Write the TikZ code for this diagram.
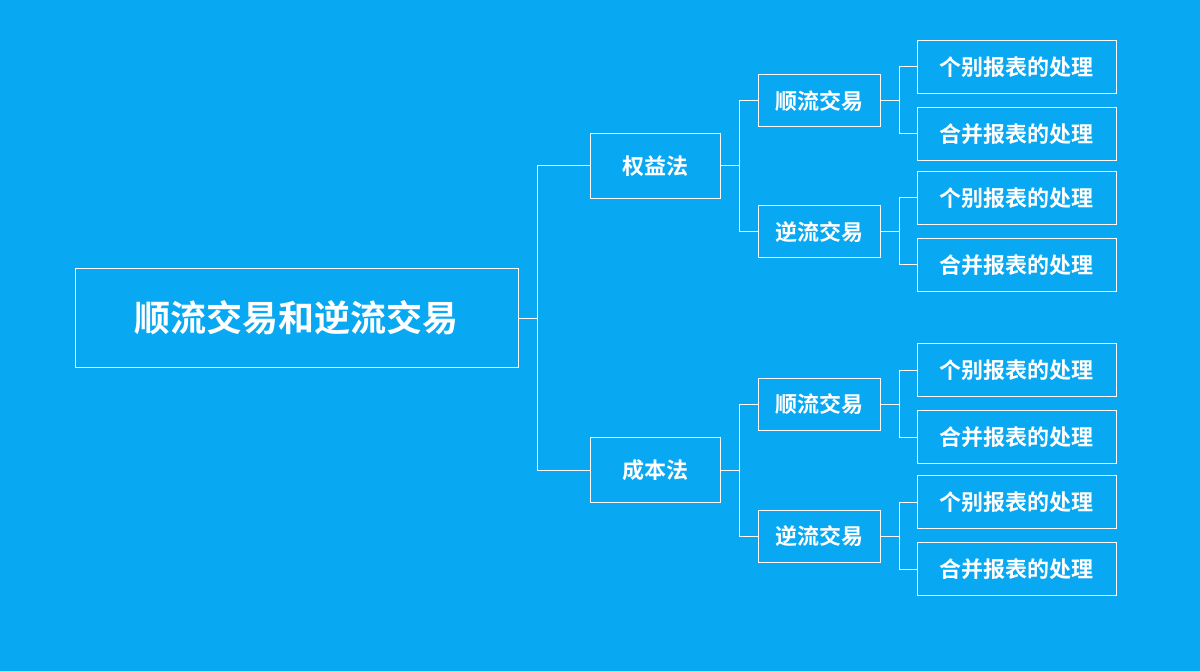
\documentclass[tikz,border=0pt]{standalone}
\usepackage{fontspec}
\newfontfamily\cjk{Noto Sans CJK SC Bold}
\definecolor{bg}{HTML}{08A8F2}
\begin{document}
\begin{tikzpicture}[x=1pt,y=-1pt,
  box/.style={draw=white,line width=1pt,text=white,inner sep=0pt,anchor=center,font=\cjk\fontsize{22}{24}\selectfont},
  conn/.style={draw=white,line width=1pt}]
\fill[bg] (0,0) rectangle (1200,671);
\useasboundingbox (0,0) rectangle (1200,671);
\node[box,minimum width=443,minimum height=98,font=\cjk\fontsize{36}{40}\selectfont] (root) at (296.5,318) {顺流交易和逆流交易};
\node[box,minimum width=130,minimum height=65] (q) at (655,166) {权益法};
\node[box,minimum width=130,minimum height=65] (c) at (655,470) {成本法};
\node[box,minimum width=122,minimum height=52] (q1) at (819,101) {顺流交易};
\node[box,minimum width=122,minimum height=52] (q2) at (819,232) {逆流交易};
\node[box,minimum width=122,minimum height=52] (c1) at (819,404) {顺流交易};
\node[box,minimum width=122,minimum height=52] (c2) at (819,536) {逆流交易};
\foreach \n/\y/\t in {a/67/个别报表的处理,b/134/合并报表的处理,d/198/个别报表的处理,e/265/合并报表的处理,f/370/个别报表的处理,g/437/合并报表的处理,h/502/个别报表的处理,i/569/合并报表的处理}
  \node[box,minimum width=199,minimum height=53] (\n) at (1016.5,\y) {\t};
\foreach \s/\t in {root/q,root/c,q/q1,q/q2,c/c1,c/c2,q1/a,q1/b,q2/d,q2/e,c1/f,c1/g,c2/h,c2/i}
  \draw[conn] (\s.east) -- ++(19,0) |- (\t.west);
\end{tikzpicture}
\end{document}
